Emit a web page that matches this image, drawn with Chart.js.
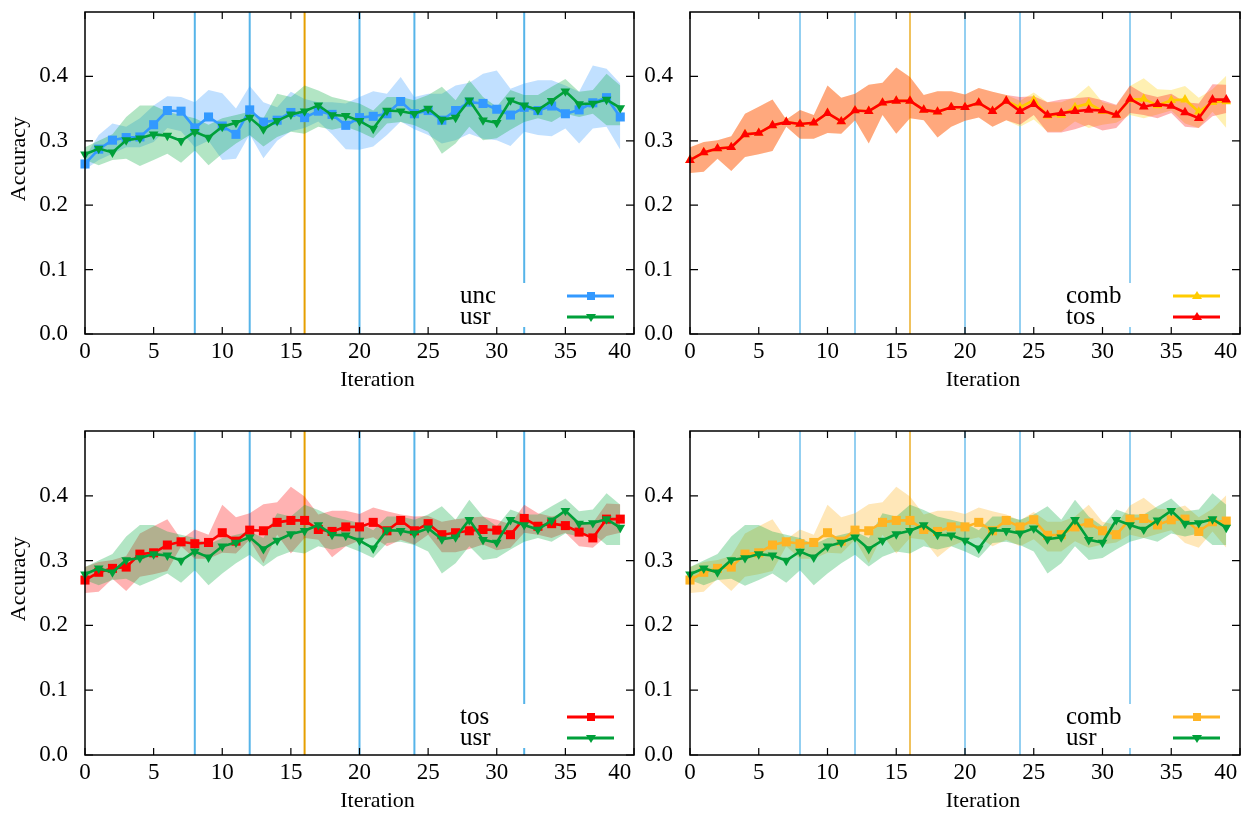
<!DOCTYPE html>
<html>
<head>
<meta charset="utf-8">
<script src="https://cdn.jsdelivr.net/npm/chart.js@4.4.1/dist/chart.umd.min.js"></script>
<style>
  html, body { margin: 0; padding: 0; background: #fff; overflow: hidden; }
  #wrap { position: relative; width: 1243px; height: 814px; overflow: hidden; }
  canvas { position: absolute; }
</style>
</head>
<body>
<div id="wrap">
  <canvas id="panelTL" width="674" height="438" style="left:0px;top:-28px"></canvas>
  <canvas id="panelTR" width="674" height="438" style="left:605px;top:-28px"></canvas>
  <canvas id="panelBL" width="674" height="440" style="left:0px;top:391px"></canvas>
  <canvas id="panelBR" width="674" height="440" style="left:605px;top:391px"></canvas>
</div>
<script>
// iterations 0..39
const iterations = [0, 1, 2, 3, 4, 5, 6, 7, 8, 9, 10, 11, 12, 13, 14, 15, 16, 17, 18, 19,
                    20, 21, 22, 23, 24, 25, 26, 27, 28, 29, 30, 31, 32, 33, 34, 35, 36, 37, 38, 39];

// unc
const uncMean = [0.264, 0.287, 0.301, 0.305, 0.306, 0.325, 0.347, 0.346, 0.320, 0.337,
                 0.323, 0.310, 0.348, 0.329, 0.332, 0.344, 0.336, 0.346, 0.341, 0.324,
                 0.336, 0.338, 0.342, 0.361, 0.342, 0.347, 0.332, 0.347, 0.360, 0.358,
                 0.349, 0.340, 0.352, 0.347, 0.354, 0.342, 0.348, 0.359, 0.367, 0.337];
const uncLow  = [0.255, 0.270, 0.280, 0.290, 0.290, 0.298, 0.320, 0.315, 0.290, 0.300,
                 0.270, 0.272, 0.310, 0.273, 0.300, 0.315, 0.320, 0.330, 0.310, 0.287,
                 0.286, 0.291, 0.309, 0.330, 0.318, 0.309, 0.296, 0.301, 0.311, 0.303,
                 0.301, 0.292, 0.314, 0.309, 0.307, 0.319, 0.296, 0.319, 0.322, 0.286];
const uncHigh = [0.275, 0.309, 0.327, 0.322, 0.335, 0.355, 0.369, 0.368, 0.360, 0.379,
                 0.374, 0.350, 0.385, 0.360, 0.352, 0.376, 0.365, 0.360, 0.360, 0.358,
                 0.368, 0.377, 0.373, 0.399, 0.368, 0.373, 0.373, 0.386, 0.390, 0.404,
                 0.409, 0.381, 0.389, 0.394, 0.394, 0.386, 0.376, 0.417, 0.412, 0.389];

// usr
const usrMean = [0.279, 0.288, 0.282, 0.301, 0.304, 0.310, 0.308, 0.300, 0.314, 0.305,
                 0.322, 0.328, 0.336, 0.318, 0.331, 0.341, 0.346, 0.355, 0.340, 0.339,
                 0.331, 0.319, 0.347, 0.346, 0.342, 0.350, 0.333, 0.336, 0.363, 0.332,
                 0.328, 0.363, 0.355, 0.348, 0.362, 0.377, 0.357, 0.358, 0.364, 0.351];
const usrLow  = [0.270, 0.262, 0.270, 0.272, 0.261, 0.270, 0.280, 0.266, 0.285, 0.262,
                 0.280, 0.296, 0.309, 0.291, 0.306, 0.314, 0.311, 0.322, 0.317, 0.322,
                 0.314, 0.304, 0.327, 0.329, 0.324, 0.314, 0.280, 0.296, 0.322, 0.301,
                 0.304, 0.317, 0.329, 0.335, 0.329, 0.342, 0.337, 0.342, 0.324, 0.324];
const usrHigh = [0.290, 0.300, 0.310, 0.337, 0.355, 0.355, 0.345, 0.340, 0.335, 0.325,
                 0.335, 0.340, 0.345, 0.335, 0.373, 0.368, 0.386, 0.378, 0.368, 0.363,
                 0.358, 0.347, 0.368, 0.368, 0.363, 0.371, 0.384, 0.363, 0.394, 0.368,
                 0.353, 0.379, 0.371, 0.371, 0.384, 0.396, 0.376, 0.379, 0.404, 0.386];

// tos
const tosMean = [0.270, 0.282, 0.288, 0.290, 0.310, 0.312, 0.324, 0.329, 0.326, 0.328,
                 0.343, 0.330, 0.347, 0.346, 0.359, 0.362, 0.362, 0.348, 0.345, 0.352,
                 0.352, 0.359, 0.346, 0.362, 0.346, 0.357, 0.340, 0.343, 0.346, 0.348,
                 0.347, 0.340, 0.365, 0.353, 0.357, 0.354, 0.344, 0.335, 0.364, 0.364];
const tosLow  = [0.250, 0.252, 0.272, 0.253, 0.275, 0.279, 0.284, 0.322, 0.303, 0.303,
                 0.312, 0.311, 0.332, 0.296, 0.340, 0.311, 0.335, 0.332, 0.305, 0.322,
                 0.331, 0.336, 0.322, 0.332, 0.325, 0.340, 0.313, 0.313, 0.318, 0.325,
                 0.316, 0.320, 0.343, 0.340, 0.335, 0.343, 0.322, 0.320, 0.338, 0.343];
const tosHigh = [0.290, 0.298, 0.301, 0.307, 0.342, 0.353, 0.364, 0.333, 0.348, 0.340,
                 0.386, 0.367, 0.373, 0.387, 0.390, 0.414, 0.399, 0.371, 0.377, 0.377,
                 0.372, 0.382, 0.376, 0.371, 0.368, 0.369, 0.360, 0.364, 0.366, 0.368,
                 0.363, 0.356, 0.386, 0.373, 0.368, 0.373, 0.360, 0.358, 0.388, 0.387];

// comb
const combMean = [0.270, 0.282, 0.288, 0.290, 0.310, 0.312, 0.324, 0.329, 0.326, 0.328,
                  0.343, 0.330, 0.347, 0.346, 0.359, 0.362, 0.362, 0.348, 0.345, 0.352,
                  0.352, 0.359, 0.346, 0.362, 0.352, 0.363, 0.339, 0.340, 0.352, 0.358,
                  0.346, 0.340, 0.364, 0.365, 0.355, 0.363, 0.364, 0.345, 0.360, 0.361];
const combLow  = [0.250, 0.252, 0.272, 0.253, 0.275, 0.279, 0.284, 0.322, 0.303, 0.303,
                  0.312, 0.311, 0.332, 0.296, 0.340, 0.311, 0.335, 0.332, 0.305, 0.322,
                  0.331, 0.336, 0.322, 0.332, 0.322, 0.333, 0.314, 0.314, 0.330, 0.320,
                  0.325, 0.328, 0.340, 0.335, 0.341, 0.347, 0.327, 0.320, 0.345, 0.320];
const combHigh = [0.290, 0.298, 0.301, 0.307, 0.342, 0.353, 0.364, 0.333, 0.348, 0.340,
                  0.386, 0.367, 0.373, 0.387, 0.390, 0.414, 0.399, 0.371, 0.377, 0.377,
                  0.372, 0.382, 0.376, 0.371, 0.362, 0.375, 0.360, 0.360, 0.368, 0.386,
                  0.360, 0.355, 0.385, 0.397, 0.380, 0.379, 0.385, 0.367, 0.380, 0.401];

// iterations marked with vertical lines, 16 is highlighted
const phaseIters = [8, 12, 16, 20, 24, 32];
const highlightIter = 16;

const yTicks = [0, 0.1, 0.2, 0.3, 0.4];
const serif = "'Liberation Serif', 'DejaVu Serif', serif";

function pts(arr) {
    return iterations.map((it, k) => ({ x: it, y: arr[k] }));
}

// frame, inward ticks, vertical markers, axis titles and the key box
const panelDecor = {
    id: 'panelDecor',
    beforeDatasetsDraw(chart, args, opts) {
        const { ctx, chartArea: a, scales: { x } } = chart;
        ctx.save();
        ctx.lineWidth = opts.vlineWidth;
        phaseIters.forEach(it => {
            const px = x.getPixelForValue(it);
            ctx.strokeStyle = it === highlightIter ? opts.highlightColor : opts.vlineColor;
            ctx.beginPath();
            ctx.moveTo(px, a.top);
            ctx.lineTo(px, a.bottom);
            ctx.stroke();
        });
        ctx.restore();
    },
    afterDatasetsDraw(chart, args, opts) {
        const { ctx, chartArea: a, scales: { x, y } } = chart;
        ctx.save();

        // key
        ctx.fillStyle = '#fff';
        ctx.fillRect(a.right - 180, a.bottom - 51, 176, 44);
        ctx.font = '25px ' + serif;
        ctx.textBaseline = 'middle';
        ctx.textAlign = 'left';
        opts.keys.forEach((k, n) => {
            const ky = a.bottom - 38 + n * 21;
            ctx.fillStyle = '#000';
            ctx.fillText(k.label, a.right - 174, ky);
            ctx.strokeStyle = k.color;
            ctx.lineWidth = 3;
            ctx.beginPath();
            ctx.moveTo(a.right - 67, ky);
            ctx.lineTo(a.right - 20, ky);
            ctx.stroke();
            const mx = a.right - 43;
            ctx.fillStyle = k.color;
            ctx.beginPath();
            if (k.marker === 'rect') {
                ctx.rect(mx - 4, ky - 4, 8, 8);
            } else if (k.marker === 'up') {
                ctx.moveTo(mx, ky - 5); ctx.lineTo(mx + 5, ky + 3); ctx.lineTo(mx - 5, ky + 3);
            } else {
                ctx.moveTo(mx, ky + 5); ctx.lineTo(mx + 5, ky - 3); ctx.lineTo(mx - 5, ky - 3);
            }
            ctx.closePath();
            ctx.fill();
        });

        // inward mirrored ticks
        ctx.strokeStyle = '#000';
        ctx.lineWidth = 1.2;
        x.ticks.forEach(t => {
            const px = x.getPixelForValue(t.value);
            ctx.beginPath();
            ctx.moveTo(px, a.bottom); ctx.lineTo(px, a.bottom - 7);
            ctx.moveTo(px, a.top); ctx.lineTo(px, a.top + 7);
            ctx.stroke();
        });
        yTicks.forEach(v => {
            const py = y.getPixelForValue(v);
            ctx.beginPath();
            ctx.moveTo(a.left, py); ctx.lineTo(a.left + 8, py);
            ctx.moveTo(a.right, py); ctx.lineTo(a.right - 8, py);
            ctx.stroke();
        });

        // frame
        ctx.lineWidth = 1.5;
        ctx.strokeRect(a.left, a.top, a.right - a.left, a.bottom - a.top);

        // axis titles
        ctx.fillStyle = '#000';
        ctx.font = '22px ' + serif;
        ctx.textAlign = 'center';
        ctx.textBaseline = 'middle';
        ctx.fillText('Iteration', (a.left + a.right) / 2 + 18, a.bottom + 46);
        if (opts.showYTitle) {
            ctx.translate(a.left - 66, (a.top + a.bottom) / 2 - 14);
            ctx.rotate(-Math.PI / 2);
            ctx.fillText('Accuracy', 0, 0);
        }
        ctx.restore();
    }
};

function makePanel(canvasId, series, showYTitle, vlineWidth, vlineAlpha, padRight) {
    const datasets = [];
    // lines first (drawn on top), the second series above the first
    series.forEach((s, n) => {
        datasets.push({
            label: s.label,
            data: pts(s.mean),
            borderColor: s.color,
            backgroundColor: s.color,
            borderWidth: 2.6,
            pointStyle: s.marker === 'rect' ? 'rect' : 'triangle',
            rotation: s.marker === 'down' ? 180 : 0,
            pointRadius: s.marker === 'rect' ? 6.4 : 5.6,
            pointBorderWidth: 0,
            pointBackgroundColor: s.color,
            tension: 0,
            clip: false,
            order: 2 - n
        });
    });
    series.forEach((s, n) => {
        const lowIndex = datasets.length;
        datasets.push({
            label: s.label + ' low',
            data: pts(s.low),
            borderWidth: 0,
            borderColor: 'rgba(0,0,0,0)',
            pointRadius: 0,
            fill: false,
            tension: 0,
            order: 11 - n
        });
        datasets.push({
            label: s.label + ' high',
            data: pts(s.high),
            borderWidth: 0,
            borderColor: 'rgba(0,0,0,0)',
            backgroundColor: s.band,
            pointRadius: 0,
            fill: lowIndex,
            tension: 0,
            order: 11 - n
        });
    });

    return new Chart(document.getElementById(canvasId), {
        type: 'line',
        data: { datasets: datasets },
        options: {
            responsive: false,
            animation: false,
            events: [],
            layout: { padding: { left: 0, right: padRight, top: 40, bottom: 0 } },
            plugins: {
                legend: { display: false },
                tooltip: { enabled: false },
                panelDecor: {
                    showYTitle: showYTitle,
                    vlineWidth: vlineWidth,
                    vlineColor: 'rgba(86,180,233,' + vlineAlpha + ')',
                    highlightColor: 'rgba(230,159,0,' + vlineAlpha + ')',
                    keys: series.map(s => ({ label: s.label, color: s.color, marker: s.marker }))
                }
            },
            scales: {
                x: {
                    type: 'linear',
                    min: 0,
                    max: 40,
                    grid: { display: false, drawTicks: false },
                    border: { display: false },
                    ticks: {
                        stepSize: 5,
                        padding: 4,
                        color: '#000',
                        font: { family: serif, size: 23 },
                        maxRotation: 0,
                        // the last label sits left of the frame corner
                        callback: v => (v === 40 ? '40     ' : String(v))
                    },
                    afterFit: scale => { scale.height = 76; }
                },
                y: {
                    min: 0,
                    max: 0.5,
                    grid: { display: false, drawTicks: false },
                    border: { display: false },
                    ticks: {
                        stepSize: 0.1,
                        padding: 17,
                        color: '#000',
                        font: { family: serif, size: 23 },
                        callback: v => (v > 0.45 ? '' : v.toFixed(1))
                    },
                    afterFit: scale => { scale.width = 85; }
                }
            }
        },
        plugins: [panelDecor]
    });
}

document.addEventListener("DOMContentLoaded", function() {
    const unc = { label: 'unc', mean: uncMean, low: uncLow, high: uncHigh,
                  color: '#3399ff', band: 'rgba(51,153,255,0.3)', marker: 'rect' };
    const usr = { label: 'usr', mean: usrMean, low: usrLow, high: usrHigh,
                  color: '#00a03a', band: 'rgba(0,170,60,0.3)', marker: 'down' };
    const tosUp = { label: 'tos', mean: tosMean, low: tosLow, high: tosHigh,
                    color: '#ff0000', band: 'rgba(255,0,0,0.3)', marker: 'up' };
    const tosSq = { label: 'tos', mean: tosMean, low: tosLow, high: tosHigh,
                    color: '#ff0000', band: 'rgba(255,0,0,0.3)', marker: 'rect' };
    const combUp = { label: 'comb', mean: combMean, low: combLow, high: combHigh,
                     color: '#ffcc00', band: 'rgba(255,204,0,0.3)', marker: 'up' };
    const combSq = { label: 'comb', mean: combMean, low: combLow, high: combHigh,
                     color: '#ffb424', band: 'rgba(255,170,0,0.28)', marker: 'rect' };

    // Graphique haut gauche : unc / usr
    makePanel('panelTL', [unc, usr], true, 2, 1, 40);
    // Graphique haut droit : comb / tos
    makePanel('panelTR', [combUp, tosUp], false, 1.5, 0.85, 39);
    // Graphique bas gauche : tos / usr
    makePanel('panelBL', [tosSq, usr], true, 2, 1, 40);
    // Graphique bas droit : comb / usr
    makePanel('panelBR', [combSq, usr], false, 1.5, 0.85, 39);
});
</script>
</body>
</html>
